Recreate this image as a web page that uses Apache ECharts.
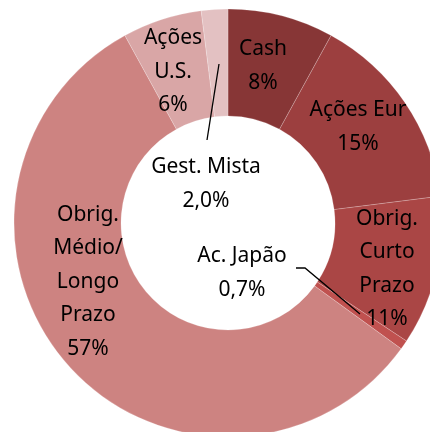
<!DOCTYPE html>
<html>
<head>
<meta charset="utf-8">
<script src="https://cdn.jsdelivr.net/npm/echarts@6/dist/echarts.min.js"></script>
<style>
  html, body { margin: 0; padding: 0; background: #fff; }
  #chart { width: 430px; height: 432px; }
</style>
</head>
<body>
<div id="chart"></div>
<script>
// slices, clockwise from 12 o'clock
var names = ['Cash', 'Ações Eur', 'Obrig.\nCurto\nPrazo', 'Ac. Japão', 'Obrig.\nMédio/\nLongo\nPrazo', 'Ações\nU.S.', 'Gest. Mista'];
var values = [8, 15, 11.3, 0.7, 57, 6, 2.0];
var valueLabels = ['8%', '15%', '11%', '0,7%', '57%', '6%', '2,0%'];
var colors = ['#873636', '#9c3f3f', '#aa4645', '#c0514f', '#cd8381', '#d9a6a6', '#e3c1c2'];

// where each label block sits (centre), same order as names
var labelPos = [[263, 66], [358, 127], [387, 269], [242, 273], [88, 282], [173, 72], [206, 184]];

var chart = echarts.init(document.getElementById('chart'));

var seriesData = names.map(function (n, i) {
  return { name: n, value: values[i], itemStyle: { color: colors[i] } };
});

var option = {
  animation: false,
  graphic: [
    // leader lines for the two thin slices
    { type: 'polyline', shape: { points: [[219, 64], [207, 140]] }, style: { stroke: '#000', lineWidth: 1.3, fill: null }, z: 10 },
    { type: 'polyline', shape: { points: [[360, 314], [305, 268], [296, 268]] }, style: { stroke: '#000', lineWidth: 1.3, fill: null }, z: 10 }
  ],
  series: [
    {
      type: 'pie',
      center: [228, 223],
      radius: [107, 214],
      startAngle: 90,
      clockwise: true,
      avoidLabelOverlap: false,
      itemStyle: { borderColor: 'rgba(255,255,255,0.35)', borderWidth: 0.6 },
      label: {
        show: true,
        position: 'inside',
        color: '#000',
        fontFamily: 'Noto Sans',
        fontSize: 21,
        lineHeight: 33.5,
        align: 'center',
        formatter: function (p) {
          return p.name + '\n' + valueLabels[p.dataIndex];
        }
      },
      labelLine: { show: false },
      labelLayout: function (p) {
        var pos = labelPos[p.dataIndex];
        return { x: pos[0], y: pos[1], align: 'center', verticalAlign: 'middle' };
      },
      emphasis: { disabled: true },
      data: seriesData
    }
  ]
};

chart.setOption(option);
</script>
</body>
</html>
